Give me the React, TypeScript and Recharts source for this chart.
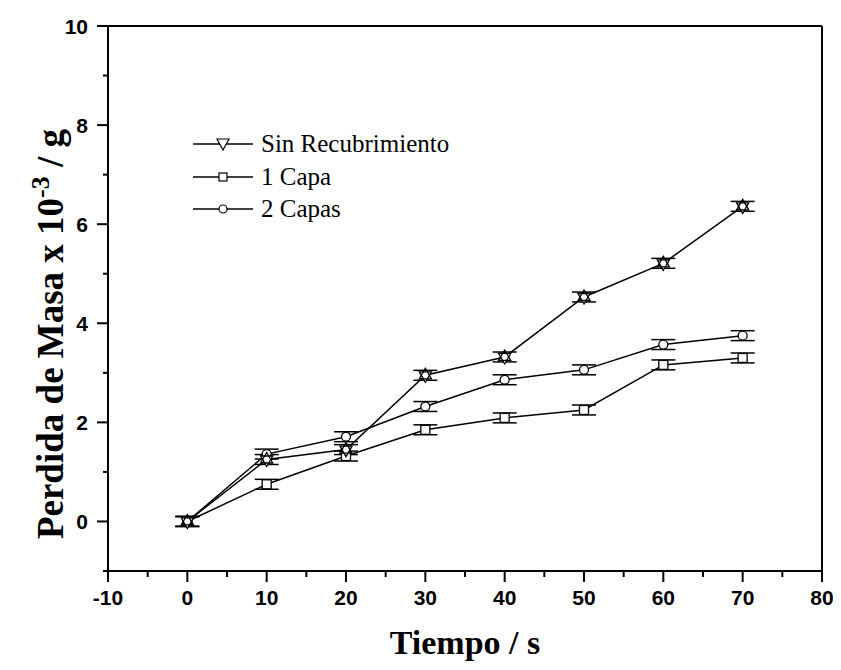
import React from "react";
import { LineChart, Line, XAxis, YAxis, ErrorBar, ReferenceLine } from "recharts";

const times = [0, 10, 20, 30, 40, 50, 60, 70];
const sinRecubrimiento = [0, 1.25, 1.45, 2.95, 3.32, 4.53, 5.21, 6.36];
const unaCapa = [0, 0.75, 1.32, 1.85, 2.09, 2.25, 3.16, 3.3];
const dosCapas = [0, 1.36, 1.71, 2.32, 2.86, 3.06, 3.57, 3.75];
const sinErr = [0.1, 0.1, 0.1, 0.1, 0.1, 0.1, 0.1, 0.1];
const unaErr = [0.1, 0.1, 0.1, 0.1, 0.1, 0.1, 0.1, 0.1];
const dosErr = [0.1, 0.1, 0.1, 0.1, 0.1, 0.1, 0.1, 0.1];

const xTicks = [-10, -5, 0, 5, 10, 15, 20, 25, 30, 35, 40, 45, 50, 55, 60, 65, 70, 75, 80];
const yTicks = [-1, 0, 1, 2, 3, 4, 5, 6, 7, 8, 9, 10];

const seriesNames = ["Sin Recubrimiento", "1 Capa", "2 Capas"];

const data = times.map((t, i) => ({
  t,
  sin: sinRecubrimiento[i],
  una: unaCapa[i],
  dos: dosCapas[i],
  sinErr: sinErr[i],
  unaErr: unaErr[i],
  dosErr: dosErr[i],
}));

const SANS = "'Liberation Sans', Arial, sans-serif";
const SERIF = "'Liberation Serif', 'Times New Roman', serif";

const XTick = (p: any) => {
  const { x, y, payload } = p;
  const v = payload.value;
  const major = v % 10 === 0;
  return (
    <g>
      <line x1={x} x2={x} y1={y} y2={y + (major ? 11 : 6)} stroke="#000" strokeWidth={2} />
      {major && (
        <text x={x} y={y + 34} textAnchor="middle" fontFamily={SANS} fontWeight="bold" fontSize={21} fill="#000">
          {v}
        </text>
      )}
    </g>
  );
};

const YTick = (p: any) => {
  const { x, y, payload } = p;
  const v = payload.value;
  const major = v >= 0 && v % 2 === 0;
  return (
    <g>
      <line x1={x - (major ? 11 : 5)} x2={x} y1={y} y2={y} stroke="#000" strokeWidth={2} />
      {major && (
        <text x={x - 20} y={y + 7.5} textAnchor="end" fontFamily={SANS} fontWeight="bold" fontSize={21} fill="#000">
          {v}
        </text>
      )}
    </g>
  );
};

const star = (cx: number, cy: number, r: number) => {
  const dx = r * 0.866;
  const dy = r * 0.5;
  return (
    <g>
      <polygon points={`${cx},${cy + r} ${cx - dx},${cy - dy} ${cx + dx},${cy - dy}`} fill="#fff" stroke="#000" strokeWidth={1.3} />
      <polygon points={`${cx},${cy - r} ${cx - dx},${cy + dy} ${cx + dx},${cy + dy}`} fill="none" stroke="#000" strokeWidth={1.3} />
    </g>
  );
};

const StarDot = (p: any) => {
  const { cx, cy } = p;
  if (cx == null || cy == null) return null;
  return <g key={`s${cx}`}>{star(cx, cy, 7)}</g>;
};
const SquareDot = (p: any) => {
  const { cx, cy } = p;
  if (cx == null || cy == null) return null;
  return <rect key={`q${cx}`} x={cx - 4.5} y={cy - 4.5} width={9} height={9} fill="#fff" stroke="#000" strokeWidth={1.3} />;
};
const CircleDot = (p: any) => {
  const { cx, cy } = p;
  if (cx == null || cy == null) return null;
  return <circle key={`c${cx}`} cx={cx} cy={cy} r={4.5} fill="#fff" stroke="#000" strokeWidth={1.3} />;
};

const LegendBlock = () => {
  const rows = [136, 169, 201];
  const x0 = 185;
  const x1 = 245;
  const mx = 215;
  return (
    <g>
      {rows.map((ry, i) => (
        <g key={i}>
          <line x1={x0} x2={x1} y1={ry} y2={ry} stroke="#000" strokeWidth={1.5} />
          {i === 0 && (
            <polygon points={`${mx - 6},${ry - 5} ${mx + 6},${ry - 5} ${mx},${ry + 6}`} fill="#fff" stroke="#000" strokeWidth={1.2} />
          )}
          {i === 1 && <rect x={mx - 4} y={ry - 4} width={8} height={8} fill="#fff" stroke="#000" strokeWidth={1.2} />}
          {i === 2 && <circle cx={mx} cy={ry} r={4} fill="#fff" stroke="#000" strokeWidth={1.2} />}
          <text x={x1 + 8} y={ry + 8} fontFamily={SERIF} fontSize={25} fill="#000">
            {seriesNames[i]}
          </text>
        </g>
      ))}
    </g>
  );
};

export default function App() {
  return (
    <div style={{ width: 833, height: 662 }}>
      <LineChart width={833} height={662} data={data} margin={{ top: 18, right: 19, bottom: 0, left: 0 }}>
        <XAxis
          dataKey="t"
          type="number"
          domain={[-10, 80]}
          ticks={xTicks}
          interval={0}
          tick={(p: any) => <XTick {...p} />}
          tickLine={false}
          tickSize={0}
          tickMargin={0}
          axisLine={{ stroke: "#000", strokeWidth: 2 }}
          height={99}
          allowDataOverflow
        />
        <YAxis
          type="number"
          domain={[-1, 10]}
          ticks={yTicks}
          interval={0}
          tick={(p: any) => <YTick {...p} />}
          tickLine={false}
          tickSize={0}
          tickMargin={0}
          axisLine={{ stroke: "#000", strokeWidth: 2 }}
          width={100}
          allowDataOverflow
        />
        <ReferenceLine y={10} stroke="#000" strokeWidth={2} />
        <ReferenceLine x={80} stroke="#000" strokeWidth={2} />
        <Line type="linear" dataKey="una" stroke="#000" strokeWidth={1.5} dot={(p: any) => <SquareDot {...p} />} isAnimationActive={false}>
          <ErrorBar dataKey="unaErr" direction="y" width={12} stroke="#000" strokeWidth={1.5} />
        </Line>
        <Line type="linear" dataKey="dos" stroke="#000" strokeWidth={1.5} dot={(p: any) => <CircleDot {...p} />} isAnimationActive={false}>
          <ErrorBar dataKey="dosErr" direction="y" width={12} stroke="#000" strokeWidth={1.5} />
        </Line>
        <Line type="linear" dataKey="sin" stroke="#000" strokeWidth={1.5} dot={(p: any) => <StarDot {...p} />} isAnimationActive={false}>
          <ErrorBar dataKey="sinErr" direction="y" width={12} stroke="#000" strokeWidth={1.5} />
        </Line>
        <LegendBlock />
        <text x={457} y={646} textAnchor="middle" fontFamily={SERIF} fontWeight="bold" fontSize={34} fill="#000">
          Tiempo / s
        </text>
        <text
          x={55}
          y={326}
          transform="rotate(-90 55 326)"
          textAnchor="middle"
          fontFamily={SERIF}
          fontWeight="bold"
          fontSize={37}
          fill="#000"
        >
          Perdida de Masa x 10
          <tspan dy={-14} fontSize={26}>-3</tspan>
          <tspan dy={14}> / g</tspan>
        </text>
      </LineChart>
    </div>
  );
}
